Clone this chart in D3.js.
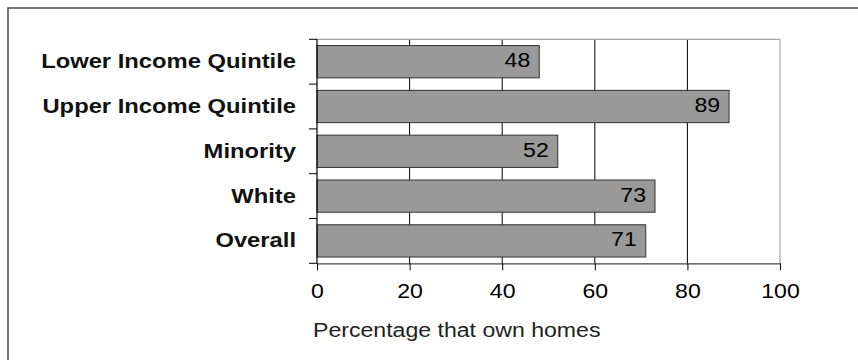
<!DOCTYPE html>
<html>
<head>
<meta charset="utf-8">
<script src="https://cdn.jsdelivr.net/npm/d3@7"></script>
<style>
  body { margin: 0; background: #fff; }
  svg { display: block; font-family: "Liberation Sans", Arial, sans-serif; }
</style>
</head>
<body>
<svg id="chart" width="858" height="360"></svg>
<script>
// data
var categories = ["Lower Income Quintile", "Upper Income Quintile", "Minority", "White", "Overall"];
var values = [48, 89, 52, 73, 71];
var xTicks = [0, 20, 40, 60, 80, 100];
var gridTicks = [20, 40, 60, 80];
var xTitle = "Percentage that own homes";

// layout
var plotLeft = 317, plotRight = 780, plotTop = 39.3, plotBottom = 263.3;
var stretch = 1.1; // text in the picture is a bit wide

var svg = d3.select("#chart");

// outer frame (cropped at right and bottom)
svg.append("rect")
    .attr("x", 8).attr("y", 8)
    .attr("width", 900).attr("height", 400)
    .attr("fill", "none")
    .attr("stroke", "#555")
    .attr("stroke-width", 1.6);

var x = d3.scaleLinear().domain([0, 100]).range([plotLeft, plotRight]);
var y = d3.scaleBand().domain(categories).range([plotTop, plotBottom])
    .paddingInner(0.28).paddingOuter(0.14);

// gridlines
svg.append("g").selectAll("line")
    .data(gridTicks)
    .enter().append("line")
    .attr("x1", function(d){return x(d);})
    .attr("x2", function(d){return x(d);})
    .attr("y1", plotTop).attr("y2", plotBottom)
    .attr("stroke", "#000").attr("stroke-width", 1);

// plot border top + right
svg.append("path")
    .attr("d", "M" + x(0) + "," + plotTop + "H" + x(100) + "V" + plotBottom)
    .attr("fill", "none")
    .attr("stroke", "#a6a6a6").attr("stroke-width", 1.2);

// bars
var rows = categories.map(function(c, i){ return {cat: c, val: values[i]}; });

svg.append("g").selectAll("rect")
    .data(rows)
    .enter().append("rect")
    .attr("x", x(0))
    .attr("y", function(d){return y(d.cat);})
    .attr("width", function(d){return x(d.val) - x(0);})
    .attr("height", y.bandwidth())
    .attr("fill", "#999999")
    .attr("stroke", "#333")
    .attr("stroke-width", 1);

// value labels inside bar ends
svg.append("g").selectAll("text")
    .data(rows)
    .enter().append("text")
    .attr("transform", function(d){
        return "translate(" + (x(d.val) - 9) + "," + (y(d.cat) + y.bandwidth() / 2 + 5.5) + ") scale(" + stretch + ",1)";
    })
    .attr("text-anchor", "end")
    .attr("font-size", 21)
    .attr("fill", "#000")
    .text(function(d){return d.val;});

// x axis
var xAxis = svg.append("g")
    .attr("transform", "translate(0," + plotBottom + ")")
    .call(d3.axisBottom(x).tickValues(xTicks).tickSize(7).tickSizeOuter(0));
xAxis.select(".domain").attr("stroke", "#444").attr("stroke-width", 1.2);
xAxis.selectAll(".tick line").attr("stroke", "#000");
xAxis.selectAll(".tick text")
    .attr("y", 35).attr("dy", null)
    .attr("transform", "scale(" + stretch + ",1)")
    .attr("font-size", 21)
    .attr("font-family", "Liberation Sans, Arial, sans-serif")
    .attr("fill", "#000");

// y axis: line and ticks at band boundaries
var step = y.step();
var bounds = d3.range(categories.length + 1).map(function(i){
    return y.range()[0] + i * step;
});
svg.append("line")
    .attr("x1", x(0)).attr("x2", x(0))
    .attr("y1", plotTop).attr("y2", plotBottom)
    .attr("stroke", "#000").attr("stroke-width", 1.2);
svg.append("g").selectAll("line")
    .data(bounds)
    .enter().append("line")
    .attr("x1", x(0) - 8).attr("x2", x(0))
    .attr("y1", function(d){return d;})
    .attr("y2", function(d){return d;})
    .attr("stroke", "#000").attr("stroke-width", 1);

// category labels
svg.append("g").selectAll("text")
    .data(categories)
    .enter().append("text")
    .attr("transform", function(d){
        return "translate(" + 296 + "," + (y(d) + y.bandwidth() / 2 + 6.5) + ") scale(1.16,1)";
    })
    .attr("text-anchor", "end")
    .attr("font-size", 20.5)
    .attr("font-weight", "bold")
    .attr("fill", "#111")
    .text(function(d){return d;});

// axis title
svg.append("text")
    .attr("transform", "translate(313,336.5) scale(" + stretch + ",1)")
    .attr("font-size", 21)
    .attr("fill", "#222")
    .text(xTitle);
</script>
</body>
</html>
